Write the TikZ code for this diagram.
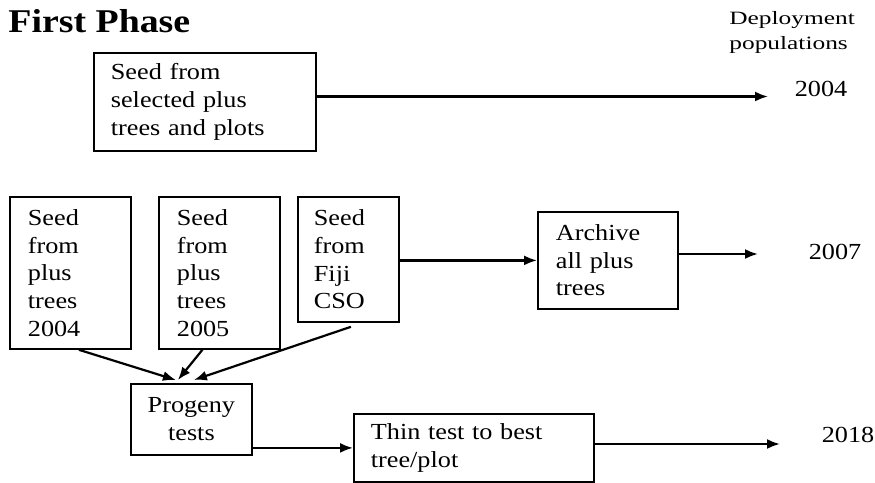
\documentclass[tikz,border=0pt]{standalone}
\usepackage{fontspec}
\setmainfont{Liberation Serif}[FakeStretch=1.14]
\newfontfamily\deployfont{Liberation Serif}[FakeStretch=1.35]
\usetikzlibrary{arrows.meta, positioning}

\begin{document}
\begin{tikzpicture}[x=0.5pt, y=-0.5pt,
        >={Latex[length=6.5pt,width=5pt]},
        box/.style={draw, line width=.9pt, anchor=north west, align=left,
          inner ysep=0pt, font=\fontsize{11.5}{13.85}\selectfont},
        year/.style={font=\fontsize{11.5}{13.85}\selectfont},
        flow/.style={->, line width=1.1pt}
        ]
      \useasboundingbox (0,0) rectangle (875,483);
      % headings
      \node [anchor=base west, inner sep=0pt, font=\bfseries\fontsize{16.6}{20}\selectfont] (phase) at (8,32) {First Phase};
      \node [anchor=west, align=left, inner sep=0pt,
        font=\deployfont\fontsize{9.4}{12.5}\selectfont] (deploy) at (729,32) {Deployment\\populations};
      % boxes
      \node [box, text width=94pt, inner xsep=8.5pt, minimum height=49pt] (seedsel) at (93,52)
        {Seed from\\selected plus\\trees and plots};
      \node [box, text width=42.5pt, inner xsep=9pt, minimum height=76pt] (seed04) at (9,196)
        {Seed\\from\\plus\\trees\\2004};
      \node [box, text width=42.5pt, inner xsep=9pt, minimum height=76pt] (seed05) at (158,196)
        {Seed\\from\\plus\\trees\\2005};
      \node [box, text width=34.5pt, inner xsep=8pt, minimum height=62.5pt] (seedfiji) at (297,196)
        {Seed\\from\\Fiji\\CSO};
      \node [box, text width=52pt, inner xsep=9pt, minimum height=48.5pt] (archive) at (537,211)
        {Archive\\all plus\\trees};
      \node [box, align=center, text width=54.5pt, inner xsep=3pt, minimum height=35.5pt] (progeny) at (130,383)
        {Progeny\\tests};
      \node [box, text width=103pt, inner xsep=8.5pt, minimum height=34pt] (thin) at (353,413)
        {Thin test to best\\tree/plot};
      % deployment years
      \node [year] (y2004) at (821,89) {2004};
      \node [year] (y2007) at (835,252) {2007};
      \node [year] (y2018) at (848,435) {2018};
      \coordinate (e2004) at (768,96.5);
      \coordinate (e2007) at (758,254);
      \coordinate (e2018) at (780,444);
      % arrows
      \draw [flow] (seedsel.east |- e2004) -- (e2004);
      \draw [flow] (seedfiji.east |- archive.west) -- (archive.west);
      \draw [flow] (archive.east |- e2007) -- (e2007);
      \draw [flow] ([xshift=4.25pt]seed04.south) -- ([xshift=-7.75pt,yshift=1.5pt]progeny.north);
      \draw [flow] ([xshift=-8.5pt]seed05.south) -- ([xshift=-6.75pt,yshift=1.5pt]progeny.north);
      \draw [flow] ([xshift=1.25pt,yshift=-2pt]seedfiji.south) -- ([xshift=1.25pt,yshift=1.5pt]progeny.north);
      \draw [flow] (thin.west -| progeny.east) -- (thin.west);
      \draw [flow] (thin.east |- e2018) -- (e2018);
    \end{tikzpicture}
\end{document}
